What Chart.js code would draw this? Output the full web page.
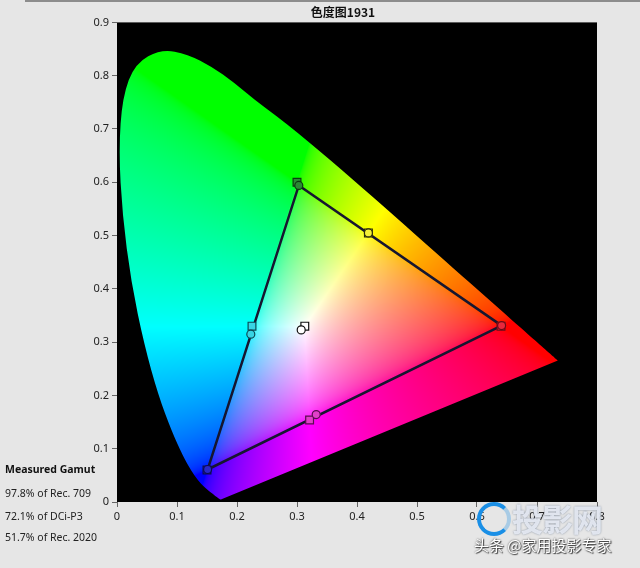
<!DOCTYPE html>
<html>
<head>
<meta charset="utf-8">
<script src="https://cdn.jsdelivr.net/npm/chart.js@4/dist/chart.umd.min.js"></script>
<style>
  html, body { margin: 0; padding: 0; background: #e6e6e6; }
  #wrap { position: relative; width: 640px; height: 568px; overflow: hidden; }
  #topbar { position: absolute; left: 25px; top: 0; width: 615px; height: 2px; background: #8c8c8c; }
  canvas { position: absolute; left: 0; top: 0; }
  .gamut { position: absolute; left: 5px; font-family: "Noto Sans", sans-serif; font-size: 10.5px; color: #222; white-space: nowrap; }
  .gamut.head { font-weight: bold; font-size: 10.5px; color: #111; }
  #wmLogo { position: absolute; left: 477px; top: 502px; width: 26px; height: 26px; border: 4px solid #1a8fe6; border-radius: 50%; border-right-color: rgba(26,143,230,0.3); }
  #wmName { position: absolute; left: 512px; top: 495px; font-family: "Noto Sans CJK SC", sans-serif; font-weight: bold; font-size: 31px; letter-spacing: -1px; color: rgba(238,242,250,0.85); text-shadow: 0 0 2px rgba(60,80,110,0.6); }
  #wmSrc { position: absolute; left: 474px; top: 534px; font-family: "Noto Sans CJK SC", sans-serif; font-size: 15px; color: #fff; text-shadow: 0 0 2px #333, 1px 1px 1px #444; }
</style>
</head>
<body>
<div id="wrap">
  <div id="topbar"></div>
  <canvas id="cie" width="640" height="568"></canvas>
  <div id="wmLogo"></div>
  <div id="wmName">投影网</div>
  <div id="wmSrc">头条 @家用投影专家</div>
</div>
<script>
// 光谱轨迹 (380-700nm, 每5nm, 按图读取)
const locusX = [0.1741, 0.1740, 0.1738, 0.1736, 0.1733, 0.1730, 0.1726, 0.1721, 0.1714, 0.1703,
  0.1689, 0.1669, 0.1644, 0.1611, 0.1566, 0.1510, 0.1440, 0.1355, 0.1241, 0.1096,
  0.0913, 0.0687, 0.0454, 0.0235, 0.0090, 0.0030, 0.0090, 0.0300, 0.0740, 0.1180,
  0.1580, 0.1950, 0.2296, 0.2658, 0.3016, 0.3373, 0.3731, 0.4087, 0.4441, 0.4788,
  0.5125, 0.5448, 0.5752, 0.6029, 0.6270, 0.6482, 0.6658, 0.6801, 0.6915, 0.7006,
  0.7079, 0.7140, 0.7190, 0.7230, 0.7260, 0.7283, 0.7300, 0.7311, 0.7320, 0.7327,
  0.7334, 0.7340, 0.7344, 0.7346, 0.7347];
const locusY = [0.0050, 0.0050, 0.0049, 0.0049, 0.0048, 0.0048, 0.0048, 0.0048, 0.0051, 0.0058,
  0.0069, 0.0086, 0.0109, 0.0138, 0.0177, 0.0227, 0.0297, 0.0399, 0.0578, 0.0868,
  0.1327, 0.2007, 0.2950, 0.4127, 0.5384, 0.6600, 0.7600, 0.8230, 0.8500, 0.8400,
  0.8170, 0.7870, 0.7543, 0.7243, 0.6923, 0.6589, 0.6245, 0.5896, 0.5547, 0.5202,
  0.4866, 0.4544, 0.4242, 0.3965, 0.3725, 0.3514, 0.3340, 0.3197, 0.3083, 0.2993,
  0.2920, 0.2859, 0.2809, 0.2770, 0.2740, 0.2717, 0.2700, 0.2689, 0.2680, 0.2673,
  0.2666, 0.2660, 0.2656, 0.2654, 0.2653];

// 红 绿 蓝 青 品红 黄 白
const pointNames = ['R', 'G', 'B', 'C', 'M', 'Y', 'W'];
const targetX = [0.640, 0.300, 0.150, 0.225, 0.321, 0.419, 0.313];
const targetY = [0.330, 0.600, 0.060, 0.330, 0.154, 0.505, 0.330];
const measuredX = [0.641, 0.303, 0.151, 0.223, 0.332, 0.419, 0.307];
const measuredY = [0.331, 0.594, 0.061, 0.315, 0.164, 0.505, 0.323];

const xTickValues = [0, 0.1, 0.2, 0.3, 0.4, 0.5, 0.6, 0.7, 0.8];
const xTickLabels = ['0', '0.1', '0.2', '0.3', '0.4', '0.5', '0.6', '0.7', '0.8'];
const yTickValues = [0, 0.1, 0.2, 0.3, 0.4, 0.5, 0.6, 0.7, 0.8, 0.9];
const yTickLabels = ['0', '0.1', '0.2', '0.3', '0.4', '0.5', '0.6', '0.7', '0.8', '0.9'];

const chartTitle = '色度图1931';
const gamutTitle = 'Measured Gamut';
const gamutLines = ['97.8% of Rec. 709', '72.1% of DCi-P3', '51.7% of Rec. 2020'];

// 标记颜色
const fillColors = ['#e8283c', '#2a8a34', '#2828c8', '#38d4e4', '#e040c8', '#f4f038', '#ffffff'];
const edgeColors = ['#6a0c18', '#0c3a10', '#0c0c50', '#0c4a56', '#5a0c50', '#2a2a08', '#111111'];

// 左下角文字
const wrap = document.getElementById('wrap');
[gamutTitle].concat(gamutLines).forEach((t, i) => {
  const d = document.createElement('div');
  d.className = i === 0 ? 'gamut head' : 'gamut';
  d.style.top = [462, 486, 509, 530][i] + 'px';
  d.textContent = t;
  wrap.appendChild(d);
});

function gamma(c) {
  return c <= 0.0031308 ? 12.92 * c : 1.055 * Math.pow(c, 1 / 2.4) - 0.055;
}

function xyToRgb(x, y) {
  if (y <= 0.0001) y = 0.0001;
  const X = x / y, Z = (1 - x - y) / y;
  let r = 3.2406 * X - 1.5372 - 0.4986 * Z;
  let g = -0.9689 * X + 1.8758 + 0.0415 * Z;
  let b = 0.0557 * X - 0.2040 + 1.0570 * Z;
  r = Math.max(r, 0); g = Math.max(g, 0); b = Math.max(b, 0);
  const m = Math.max(r, g, b) || 1;
  return [gamma(r / m) * 255, gamma(g / m) * 255, gamma(b / m) * 255];
}

// 黑色背景 + 色度填充
const cieFill = {
  id: 'cieFill',
  beforeDraw(chart) {
    const { ctx, chartArea: a } = chart;
    ctx.save();
    ctx.fillStyle = '#000';
    ctx.fillRect(a.left, a.top, a.width, a.height);
    ctx.restore();
  },
  beforeDatasetsDraw(chart) {
    const { ctx, chartArea: a, scales } = chart;
    const pts = chart.getDatasetMeta(3).data;
    const w = Math.ceil(a.width), h = Math.ceil(a.height);
    const off = document.createElement('canvas');
    off.width = w; off.height = h;
    const octx = off.getContext('2d');
    const img = octx.createImageData(w, h);
    for (let j = 0; j < h; j++) {
      const yv = scales.y.getValueForPixel(a.top + j + 0.5);
      for (let i = 0; i < w; i++) {
        const xv = scales.x.getValueForPixel(a.left + i + 0.5);
        const c = xyToRgb(xv, yv);
        const k = (j * w + i) * 4;
        img.data[k] = c[0]; img.data[k + 1] = c[1]; img.data[k + 2] = c[2]; img.data[k + 3] = 255;
      }
    }
    octx.putImageData(img, 0, 0);
    // 平滑轮廓, 紫线为直线
    const n = pts.length;
    ctx.save();
    ctx.beginPath();
    ctx.moveTo(pts[0].x, pts[0].y);
    for (let i = 1; i < n - 1; i++) {
      const mx = (pts[i].x + pts[i + 1].x) / 2, my = (pts[i].y + pts[i + 1].y) / 2;
      ctx.quadraticCurveTo(pts[i].x, pts[i].y, mx, my);
    }
    ctx.lineTo(pts[n - 1].x, pts[n - 1].y);
    ctx.closePath();
    ctx.clip();
    ctx.drawImage(off, a.left, a.top);
    ctx.restore();
  }
};

const tri = [0, 1, 2, 0].map(i => ({ x: measuredX[i], y: measuredY[i] }));
const axisFont = { family: 'Noto Sans', size: 11 };

new Chart(document.getElementById('cie').getContext('2d'), {
  type: 'scatter',
  data: {
    datasets: [
      {
        label: 'Measured',
        data: pointNames.map((n, i) => ({ x: measuredX[i], y: measuredY[i] })),
        pointStyle: 'circle',
        pointRadius: 4,
        backgroundColor: fillColors,
        borderColor: edgeColors,
        borderWidth: 1.2
      },
      {
        label: 'Rec. 709',
        data: pointNames.map((n, i) => ({ x: targetX[i], y: targetY[i] })),
        pointStyle: 'rect',
        pointRadius: 5.5,
        backgroundColor: fillColors,
        borderColor: edgeColors,
        borderWidth: 1.2
      },
      {
        label: 'Gamut',
        data: tri,
        showLine: true,
        borderColor: '#161630',
        borderWidth: 2.5,
        pointRadius: 0
      },
      {
        label: 'Locus',
        data: locusX.map((x, i) => ({ x: x, y: locusY[i] })),
        showLine: false,
        pointRadius: 0
      }
    ]
  },
  options: {
    responsive: false,
    animation: false,
    layout: { padding: { left: 89, right: 43, top: 0, bottom: 0 } },
    plugins: {
      legend: { display: false },
      tooltip: { enabled: false },
      title: {
        display: true,
        text: chartTitle,
        color: '#111',
        font: { family: 'Noto Sans CJK SC', size: 12, weight: 'bold' },
        padding: { top: 5, bottom: 3 }
      }
    },
    scales: {
      x: {
        type: 'linear',
        min: 0,
        max: 0.8,
        afterBuildTicks: s => { s.ticks = xTickValues.map(v => ({ value: v })); },
        afterFit: s => { s.height = 66; },
        ticks: { callback: (v, i) => xTickLabels[i], color: '#222', font: axisFont, padding: 3, maxRotation: 0, autoSkip: false },
        grid: { drawOnChartArea: false, tickLength: 5, color: '#666' },
        border: { display: false }
      },
      y: {
        type: 'linear',
        min: 0,
        max: 0.9,
        afterBuildTicks: s => { s.ticks = yTickValues.map(v => ({ value: v })); },
        afterFit: s => { s.width = 28; },
        ticks: { callback: (v, i) => yTickLabels[i], color: '#222', font: axisFont, padding: 3, autoSkip: false },
        grid: { drawOnChartArea: false, tickLength: 5, color: '#666' },
        border: { display: false }
      }
    }
  },
  plugins: [cieFill]
});
</script>
</body>
</html>
